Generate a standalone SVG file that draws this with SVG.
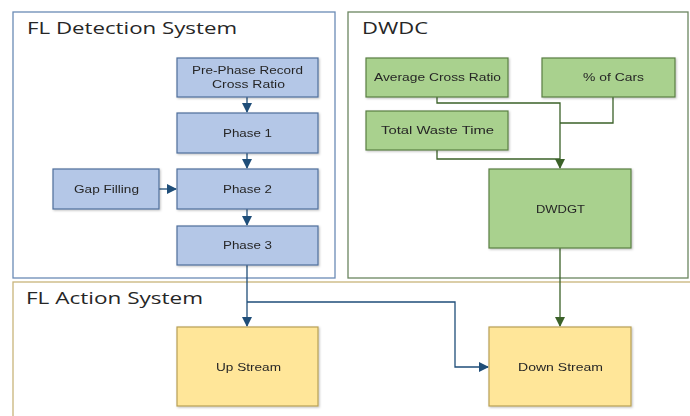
<svg xmlns="http://www.w3.org/2000/svg" width="690" height="416" viewBox="0 0 690 416">
<defs>
<style>
.title{font-family:"Open Sans","Liberation Sans",sans-serif;font-size:17px;fill:#262626}
.lbl{font-family:"Liberation Sans",Arial,sans-serif;font-size:11.5px;fill:#262626;text-anchor:middle}
.blue{fill:#b4c7e7;stroke:#4f6f9c;stroke-width:1.2}
.green{fill:#a9d18e;stroke:#5a7f44;stroke-width:1.2}
.yellow{fill:#ffe699;stroke:#b8a055;stroke-width:1.2}
.cb{fill:none;stroke:#1f4e79;stroke-width:1.3}
.cg{fill:none;stroke:#3b6128;stroke-width:1.3}
</style>
<marker id="ab" markerWidth="10" markerHeight="10" refX="9" refY="5" orient="auto" markerUnits="userSpaceOnUse"><path d="M0,0 L10,5 L0,10 Z" fill="#1f4e79"/></marker>
<marker id="ag" markerWidth="10" markerHeight="10" refX="9" refY="5" orient="auto" markerUnits="userSpaceOnUse"><path d="M0,0 L10,5 L0,10 Z" fill="#3b6128"/></marker>
<filter id="sh" x="-10%" y="-10%" width="130%" height="130%"><feDropShadow dx="1" dy="1" stdDeviation="0.8" flood-color="#000" flood-opacity="0.25"/></filter>
</defs>
<rect width="690" height="416" fill="#ffffff"/>
<g id="fl-detection-system">
<rect x="13" y="12" width="322" height="266" fill="#fff" stroke="#6a8bb5" stroke-width="1.3"/>
<text class="title" x="27" y="34" textLength="210" lengthAdjust="spacingAndGlyphs">FL Detection System</text>
</g>
<g id="dwdc">
<rect x="348" y="12" width="340" height="266" fill="#fff" stroke="#6b8660" stroke-width="1.3"/>
<text class="title" x="362" y="34" textLength="66" lengthAdjust="spacingAndGlyphs">DWDC</text>
</g>
<g id="fl-action-system">
<rect x="13" y="282" width="690" height="140" fill="#fff" stroke="#c8b47a" stroke-width="1.3"/>
<text class="title" x="26" y="304" textLength="177" lengthAdjust="spacingAndGlyphs">FL Action System</text>
</g>
<g id="connectors">
<path class="cb" d="M247,97 V112" marker-end="url(#ab)"/>
<path class="cb" d="M247,153 V168" marker-end="url(#ab)"/>
<path class="cb" d="M247,209 V225" marker-end="url(#ab)"/>
<path class="cb" d="M159,189 H176" marker-end="url(#ab)"/>
<path class="cb" d="M247,265 V326" marker-end="url(#ab)"/>
<path class="cb" d="M247,302 H455 V367 H488" marker-end="url(#ab)"/>
<path class="cg" d="M437,97 V103 H560 V168" marker-end="url(#ag)"/>
<path class="cg" d="M613,97 V123 H560"/>
<path class="cg" d="M437,150 V159 H560"/>
<path class="cg" d="M560,248 V326" marker-end="url(#ag)"/>
</g>
<g id="pre-phase" filter="url(#sh)">
<rect class="blue" x="177" y="58" width="141" height="39"/>
<text class="lbl" x="247.5" y="74" textLength="111" lengthAdjust="spacingAndGlyphs">Pre-Phase Record</text>
<text class="lbl" x="248.5" y="88" textLength="73" lengthAdjust="spacingAndGlyphs">Cross Ratio</text>
</g>
<g id="phase1" filter="url(#sh)">
<rect class="blue" x="177" y="113" width="141" height="40"/>
<text class="lbl" x="247.5" y="137" textLength="49" lengthAdjust="spacingAndGlyphs">Phase 1</text>
</g>
<g id="phase2" filter="url(#sh)">
<rect class="blue" x="177" y="169" width="141" height="40"/>
<text class="lbl" x="247.5" y="193" textLength="49" lengthAdjust="spacingAndGlyphs">Phase 2</text>
</g>
<g id="gap-filling" filter="url(#sh)">
<rect class="blue" x="53" y="169" width="106" height="40"/>
<text class="lbl" x="106.5" y="193" textLength="65" lengthAdjust="spacingAndGlyphs">Gap Filling</text>
</g>
<g id="phase3" filter="url(#sh)">
<rect class="blue" x="177" y="226" width="141" height="39"/>
<text class="lbl" x="247.5" y="249" textLength="49" lengthAdjust="spacingAndGlyphs">Phase 3</text>
</g>
<g id="avg-cross-ratio" filter="url(#sh)">
<rect class="green" x="366" y="58" width="142" height="39"/>
<text class="lbl" x="437.5" y="81" textLength="127" lengthAdjust="spacingAndGlyphs">Average Cross Ratio</text>
</g>
<g id="pct-cars" filter="url(#sh)">
<rect class="green" x="542" y="58" width="133" height="39"/>
<text class="lbl" x="613.5" y="81" textLength="61" lengthAdjust="spacingAndGlyphs">% of Cars</text>
</g>
<g id="total-waste-time" filter="url(#sh)">
<rect class="green" x="366" y="111" width="142" height="39"/>
<text class="lbl" x="437.5" y="134" textLength="113" lengthAdjust="spacingAndGlyphs">Total Waste Time</text>
</g>
<g id="dwdgt" filter="url(#sh)">
<rect class="green" x="489" y="169" width="142" height="79"/>
<text class="lbl" x="560.5" y="213" textLength="49" lengthAdjust="spacingAndGlyphs">DWDGT</text>
</g>
<g id="up-stream" filter="url(#sh)">
<rect class="yellow" x="177" y="327" width="141" height="79"/>
<text class="lbl" x="248.5" y="371" textLength="65" lengthAdjust="spacingAndGlyphs">Up Stream</text>
</g>
<g id="down-stream" filter="url(#sh)">
<rect class="yellow" x="489" y="327" width="142" height="79"/>
<text class="lbl" x="560.5" y="371" textLength="85" lengthAdjust="spacingAndGlyphs">Down Stream</text>
</g>
</svg>
